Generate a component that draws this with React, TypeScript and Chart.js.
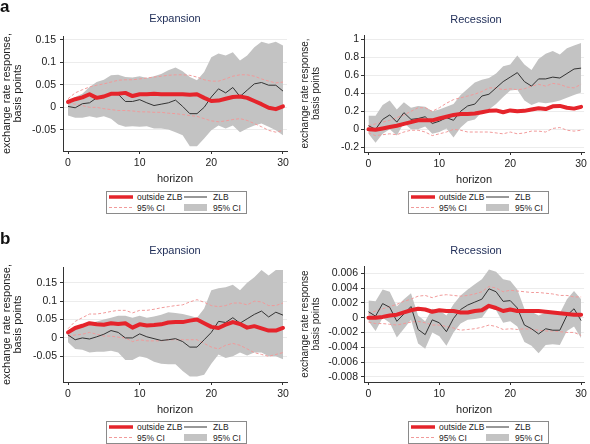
import React, { useEffect, useRef } from "react";
import { Chart, registerables } from "chart.js";
Chart.register(...registerables);

const FONT = '"Liberation Sans", Arial, Helvetica, sans-serif';
const RED = "#e5242b";
const PINK = "#f19a9a";
const GRAY = "#c3c3c3";
const DARK = "#333333";
const TITLE_COLOR = "#22305a";

const horizon = [0, 1, 2, 3, 4, 5, 6, 7, 8, 9, 10, 11, 12, 13, 14, 15, 16, 17, 18, 19, 20, 21, 22, 23, 24, 25, 26, 27, 28, 29, 30];
const xTicks = [0, 10, 20, 30];

// ---- Panel a, Expansion ----
const aExpOutside = [0.012, 0.018, 0.022, 0.029, 0.021, 0.024, 0.030, 0.030, 0.032, 0.025, 0.029, 0.029, 0.030, 0.029, 0.029, 0.029, 0.029, 0.028, 0.029, 0.021, 0.014, 0.015, 0.019, 0.023, 0.024, 0.021, 0.014, 0.007, -0.001, -0.004, 0.002];
const aExpOutsideHi = [0.019, 0.032, 0.039, 0.045, 0.049, 0.052, 0.056, 0.060, 0.061, 0.061, 0.063, 0.065, 0.067, 0.069, 0.071, 0.072, 0.072, 0.071, 0.067, 0.061, 0.058, 0.058, 0.063, 0.069, 0.072, 0.072, 0.069, 0.063, 0.058, 0.054, 0.056];
const aExpOutsideLo = [0.010, 0.007, 0.004, 0.000, 0.000, -0.003, -0.005, -0.007, -0.007, -0.008, -0.010, -0.010, -0.011, -0.011, -0.013, -0.014, -0.016, -0.018, -0.020, -0.025, -0.030, -0.032, -0.030, -0.027, -0.025, -0.029, -0.036, -0.043, -0.051, -0.055, -0.051];
const aExpZlb = [0.002, -0.001, 0.008, 0.010, 0.021, 0.024, 0.030, 0.029, 0.013, 0.013, 0.017, 0.010, 0.004, 0.007, 0.010, 0.016, 0.002, -0.014, -0.014, 0.000, 0.023, 0.041, 0.032, 0.044, 0.024, 0.038, 0.052, 0.055, 0.049, 0.049, 0.036];
const aExpZlbHi = [0.014, 0.023, 0.030, 0.045, 0.056, 0.061, 0.071, 0.072, 0.067, 0.066, 0.069, 0.065, 0.069, 0.074, 0.082, 0.088, 0.080, 0.067, 0.060, 0.078, 0.111, 0.119, 0.115, 0.122, 0.104, 0.115, 0.133, 0.145, 0.141, 0.145, 0.137];
const aExpZlbLo = [-0.018, -0.023, -0.023, -0.020, -0.023, -0.020, -0.025, -0.038, -0.043, -0.042, -0.043, -0.042, -0.047, -0.047, -0.049, -0.055, -0.062, -0.086, -0.086, -0.069, -0.051, -0.040, -0.047, -0.040, -0.055, -0.047, -0.040, -0.036, -0.043, -0.051, -0.062];
const aExpTicks = [-0.05, 0, 0.05, 0.1, 0.15];

// ---- Panel a, Recession ----
const aRecOutside = [0.0, -0.005, 0.01, 0.025, 0.04, 0.06, 0.08, 0.1, 0.1, 0.1, 0.12, 0.14, 0.16, 0.17, 0.17, 0.175, 0.19, 0.205, 0.21, 0.19, 0.21, 0.2, 0.205, 0.22, 0.235, 0.225, 0.255, 0.26, 0.24, 0.23, 0.25];
const aRecOutsideHi = [0.04, 0.06, 0.08, 0.1, 0.13, 0.16, 0.2, 0.24, 0.24, 0.2, 0.24, 0.29, 0.33, 0.35, 0.37, 0.39, 0.42, 0.46, 0.46, 0.44, 0.45, 0.44, 0.45, 0.48, 0.5, 0.48, 0.51, 0.5, 0.47, 0.46, 0.5];
const aRecOutsideLo = [-0.04, -0.07, -0.06, -0.05, -0.06, -0.03, -0.01, -0.01, -0.03, -0.07, -0.05, -0.03, 0.0, -0.01, -0.03, -0.03, -0.03, -0.03, -0.04, -0.05, -0.03, -0.05, -0.04, -0.02, -0.02, -0.03, 0.01, 0.02, -0.01, -0.02, -0.01];
const aRecZlb = [0.04, 0.0, 0.11, 0.16, 0.08, 0.185, 0.11, 0.12, 0.14, 0.065, 0.09, 0.13, 0.1, 0.2, 0.26, 0.28, 0.37, 0.39, 0.46, 0.53, 0.58, 0.63, 0.53, 0.48, 0.56, 0.56, 0.58, 0.57, 0.62, 0.67, 0.68];
const aRecZlbHi = [0.15, 0.15, 0.27, 0.32, 0.22, 0.3, 0.24, 0.26, 0.25, 0.2, 0.22, 0.25, 0.28, 0.38, 0.45, 0.52, 0.55, 0.57, 0.62, 0.7, 0.72, 0.82, 0.72, 0.66, 0.78, 0.84, 0.87, 0.83, 0.9, 0.93, 0.96];
const aRecZlbLo = [-0.05, -0.15, -0.05, 0.0, -0.07, 0.07, 0.0, 0.0, 0.03, -0.05, -0.03, 0.01, -0.09, 0.02, 0.09, 0.11, 0.19, 0.22, 0.28, 0.36, 0.43, 0.44, 0.32, 0.27, 0.3, 0.29, 0.3, 0.32, 0.35, 0.38, 0.41];
const aRecTicks = [-0.2, 0, 0.2, 0.4, 0.6, 0.8, 1];

// ---- Panel b, Expansion ----
const bExpOutside = [0.015, 0.027, 0.033, 0.04, 0.037, 0.036, 0.04, 0.038, 0.04, 0.028, 0.037, 0.034, 0.035, 0.037, 0.042, 0.043, 0.043, 0.047, 0.05, 0.04, 0.03, 0.027, 0.036, 0.043, 0.038, 0.028, 0.032, 0.026, 0.02, 0.02, 0.027];
const bExpOutsideHi = [0.025, 0.045, 0.055, 0.065, 0.065, 0.068, 0.072, 0.075, 0.075, 0.068, 0.075, 0.075, 0.078, 0.082, 0.085, 0.088, 0.09, 0.098, 0.104, 0.097, 0.088, 0.085, 0.088, 0.095, 0.095, 0.09, 0.1, 0.098, 0.088, 0.088, 0.095];
const bExpOutsideLo = [0.005, 0.008, 0.01, 0.015, 0.01, 0.005, 0.005, 0.002, 0.0, -0.01, -0.005, -0.008, -0.008, -0.008, -0.005, -0.005, -0.005, -0.005, -0.005, -0.015, -0.025, -0.03, -0.02, -0.015, -0.02, -0.03, -0.04, -0.045, -0.05, -0.045, -0.04];
const bExpZlb = [0.008, -0.005, 0.0, -0.003, 0.003, 0.01, 0.02, 0.015, 0.0, 0.0, 0.011, 0.003, -0.002, -0.007, -0.005, -0.002, -0.01, -0.025, -0.025, -0.005, 0.015, 0.045, 0.042, 0.055, 0.04, 0.052, 0.064, 0.073, 0.057, 0.07, 0.062];
const bExpZlbHi = [0.02, 0.03, 0.035, 0.04, 0.045, 0.05, 0.055, 0.06, 0.06, 0.055, 0.06, 0.055, 0.058, 0.063, 0.07, 0.068, 0.065, 0.06, 0.055, 0.08, 0.13, 0.135, 0.138, 0.145, 0.13, 0.15, 0.165, 0.185, 0.17, 0.185, 0.185];
const bExpZlbLo = [-0.012, -0.03, -0.032, -0.04, -0.038, -0.038, -0.035, -0.04, -0.06, -0.06, -0.05, -0.055, -0.065, -0.07, -0.072, -0.072, -0.09, -0.105, -0.105, -0.1, -0.07, -0.045, -0.055, -0.05, -0.04, -0.048, -0.04, -0.04, -0.05, -0.05, -0.058];
const bExpTicks = [-0.05, 0, 0.05, 0.1, 0.15];

// ---- Panel b, Recession ----
const bRecOutside = [0.0, 0.0, 0.0001, 0.0003, 0.0004, 0.0007, 0.001, 0.0012, 0.0011, 0.0008, 0.001, 0.0009, 0.0009, 0.0007, 0.0007, 0.0009, 0.001, 0.0016, 0.0013, 0.0009, 0.0011, 0.0009, 0.0009, 0.0009, 0.0009, 0.0008, 0.0007, 0.0006, 0.0005, 0.0004, 0.0004];
const bRecOutsideHi = [0.0005, 0.0009, 0.0012, 0.0015, 0.0018, 0.0022, 0.0025, 0.0029, 0.003, 0.0027, 0.003, 0.0031, 0.003, 0.0029, 0.003, 0.0032, 0.0035, 0.0042, 0.004, 0.0035, 0.0037, 0.0036, 0.0035, 0.0034, 0.0034, 0.0033, 0.0032, 0.003, 0.003, 0.0028, 0.0028];
const bRecOutsideLo = [-0.0006, -0.0008, -0.0008, -0.0009, -0.001, -0.0008, -0.0006, -0.0005, -0.0007, -0.001, -0.001, -0.0012, -0.0014, -0.0017, -0.0016, -0.0015, -0.0013, -0.001, -0.0012, -0.0016, -0.0015, -0.0016, -0.0015, -0.0016, -0.0017, -0.0018, -0.0018, -0.0019, -0.002, -0.002, -0.0024];
const bRecZlb = [0.0008, 0.0002, 0.0019, 0.0014, -0.0005, 0.0005, 0.0015, -0.0016, -0.0023, -0.0003, -0.0007, -0.0019, -0.0001, 0.0011, 0.0017, 0.0021, 0.0025, 0.0039, 0.0035, 0.0022, 0.0023, 0.0013, -0.001, -0.0015, -0.0022, -0.0015, -0.0017, -0.0017, 0.0003, 0.0012, -0.0004];
const bRecZlbHi = [0.0023, 0.0022, 0.0038, 0.0035, 0.0015, 0.0025, 0.0033, 0.0003, -0.0005, 0.0012, 0.001, 0.0003, 0.0018, 0.003, 0.0038, 0.0045, 0.0052, 0.0065, 0.0062, 0.0052, 0.005, 0.0038, 0.0012, 0.0008, 0.0003, 0.0007, 0.0005, 0.0006, 0.0025, 0.0036, 0.0025];
const bRecZlbLo = [-0.0005, -0.0018, 0.0, -0.0007, -0.0027, -0.0015, -0.0003, -0.0035, -0.0042, -0.002, -0.0025, -0.0038, -0.002, -0.0008, -0.0003, -0.0002, 0.0, 0.0013, 0.001, -0.0007, -0.0005, -0.0012, -0.0033, -0.0038, -0.0048, -0.0037, -0.0036, -0.0037, -0.0018, -0.0012, -0.0028];
const bRecTicks = [-0.008, -0.006, -0.004, -0.002, 0, 0.002, 0.004, 0.006];

type PanelCfg = {
  left: number; top: number; w: number; h: number;
  area: { l: number; t: number; r: number; b: number };
  xMin: number; xMax: number; yMin: number; yMax: number;
  yTicks: number[];
  outside: number[]; outsideHi: number[]; outsideLo: number[];
  zlb: number[]; zlbHi: number[]; zlbLo: number[];
  yTitle: string[]; yTitleSize: number; yTitleLH: number; yTitlePad: number; yTickPad: number;
};

const XH = 36;

const panels: PanelCfg[] = [
  {
    left: 0, top: 0, w: 295, h: 222, area: { l: 63, t: 36, r: 287, b: 151 },
    xMin: -0.7, xMax: 30.56, yMin: -0.0967, yMax: 0.158, yTicks: aExpTicks,
    outside: aExpOutside, outsideHi: aExpOutsideHi, outsideLo: aExpOutsideLo,
    zlb: aExpZlb, zlbHi: aExpZlbHi, zlbLo: aExpZlbLo,
    yTitle: ["exchange rate response,", "basis points"], yTitleSize: 11, yTitleLH: 11, yTitlePad: 1, yTickPad: 4,
  },
  {
    left: 295, top: 0, w: 295, h: 222, area: { l: 69, t: 35, r: 292, b: 152 },
    xMin: -0.63, xMax: 30.42, yMin: -0.252, yMax: 1.048, yTicks: aRecTicks,
    outside: aRecOutside, outsideHi: aRecOutsideHi, outsideLo: aRecOutsideLo,
    zlb: aRecZlb, zlbHi: aRecZlbHi, zlbLo: aRecZlbLo,
    yTitle: ["exchange rate response,", "basis points"], yTitleSize: 10, yTitleLH: 11, yTitlePad: 5, yTickPad: 2,
  },
  {
    left: 0, top: 222, w: 295, h: 222, area: { l: 63, t: 45, r: 287, b: 160 },
    xMin: -0.7, xMax: 30.56, yMin: -0.12, yMax: 0.193, yTicks: bExpTicks,
    outside: bExpOutside, outsideHi: bExpOutsideHi, outsideLo: bExpOutsideLo,
    zlb: bExpZlb, zlbHi: bExpZlbHi, zlbLo: bExpZlbLo,
    yTitle: ["exchange rate response,", "basis points"], yTitleSize: 11, yTitleLH: 11, yTitlePad: 1, yTickPad: 3,
  },
  {
    left: 295, top: 222, w: 295, h: 222, area: { l: 69, t: 44, r: 292, b: 160 },
    xMin: -0.63, xMax: 30.42, yMin: -0.0087, yMax: 0.00698, yTicks: bRecTicks,
    outside: bRecOutside, outsideHi: bRecOutsideHi, outsideLo: bRecOutsideLo,
    zlb: bRecZlb, zlbHi: bRecZlbHi, zlbLo: bRecZlbLo,
    yTitle: ["exchange rate response", "basis points"], yTitleSize: 10, yTitleLH: 11, yTitlePad: 5, yTickPad: 3,
  },
];

const titles = [
  { text: "Expansion", x: 175, y: 22 },
  { text: "Recession", x: 476, y: 22.5 },
  { text: "Expansion", x: 175, y: 253.5 },
  { text: "Recession", x: 476, y: 254 },
];
const panelLetters = [
  { text: "a", x: 0, y: 12 },
  { text: "b", x: 0, y: 244 },
];
const legendSpots = [
  { x: 106, y: 191 },
  { x: 408, y: 191 },
  { x: 106, y: 421 },
  { x: 408, y: 421 },
];
const legendLabels = ["outside ZLB", "ZLB", "95% CI", "95% CI"];

const pts = (ys: number[]) => horizon.map((h, i) => ({ x: h, y: ys[i] }));

function Panel({ cfg }: { cfg: PanelCfg }) {
  const ref = useRef<HTMLCanvasElement | null>(null);
  useEffect(() => {
    if (!ref.current) return;
    const c = cfg;
    const chart = new Chart(ref.current, {
      type: "line",
      data: {
        datasets: [
          { data: pts(c.zlbLo), borderColor: "rgba(0,0,0,0)", borderWidth: 0, pointRadius: 0, fill: false, order: 10 },
          { data: pts(c.zlbHi), borderColor: "rgba(0,0,0,0)", borderWidth: 0, pointRadius: 0, fill: 0, backgroundColor: GRAY, order: 9 },
          { data: pts(c.outsideLo), borderColor: PINK, borderWidth: 1, borderDash: [3, 2], pointRadius: 0, fill: false, order: 5 },
          { data: pts(c.outsideHi), borderColor: PINK, borderWidth: 1, borderDash: [3, 2], pointRadius: 0, fill: false, order: 4 },
          { data: pts(c.zlb), borderColor: DARK, borderWidth: 1, pointRadius: 0, fill: false, order: 2 },
          { data: pts(c.outside), borderColor: RED, borderWidth: 4, pointRadius: 0, fill: false, order: 1, borderJoinStyle: "round", borderCapStyle: "round" },
        ] as any,
      },
      options: {
        animation: false,
        responsive: false,
        devicePixelRatio: 1,
        events: [],
        layout: { padding: { left: 0, top: c.area.t, right: c.w - c.area.r, bottom: c.h - c.area.b - XH } },
        plugins: { legend: { display: false }, tooltip: { enabled: false }, title: { display: false } },
        scales: {
          x: {
            type: "linear",
            min: c.xMin,
            max: c.xMax,
            afterBuildTicks: (s: any) => { s.ticks = xTicks.map((v) => ({ value: v })); },
            afterFit: (s: any) => { s.height = XH; },
            grid: { display: true, drawOnChartArea: false, drawTicks: true, tickLength: 3, tickColor: DARK },
            border: { display: true, color: DARK, width: 1 },
            ticks: { font: { family: FONT, size: 10.5 }, color: "#222", padding: 3, maxRotation: 0, callback: (v: any) => String(v) },
            title: { display: true, text: "horizon", font: { family: FONT, size: 11, lineHeight: 1 }, color: "#222", padding: { top: 0, bottom: 2.5 } },
          },
          y: {
            type: "linear",
            min: c.yMin,
            max: c.yMax,
            afterBuildTicks: (s: any) => { s.ticks = c.yTicks.map((v) => ({ value: v })); },
            afterFit: (s: any) => { s.width = c.area.l; },
            grid: { display: true, drawOnChartArea: true, color: "#ececec", drawTicks: true, tickLength: 3, tickColor: DARK },
            border: { display: true, color: DARK, width: 1 },
            ticks: { font: { family: FONT, size: 10.5 }, color: "#222", padding: c.yTickPad, callback: (v: any) => String(v) },
            title: {
              display: true,
              text: c.yTitle,
              font: { family: FONT, size: c.yTitleSize, lineHeight: c.yTitleLH / c.yTitleSize },
              color: "#222",
              padding: { top: c.yTitlePad, bottom: 0 },
            },
          },
        },
      } as any,
    });
    return () => chart.destroy();
  }, [cfg]);
  return (
    <canvas
      ref={ref}
      width={cfg.w}
      height={cfg.h}
      style={{ position: "absolute", left: cfg.left, top: cfg.top, width: cfg.w, height: cfg.h }}
    />
  );
}

function Legend({ x, y }: { x: number; y: number }) {
  const fs = 8.5;
  return (
    <g transform={`translate(${x},${y})`}>
      <rect x={0.5} y={0.5} width={140} height={22} fill="#fff" stroke="#8a8a8a" strokeWidth={1} />
      <line x1={3} x2={27} y1={6} y2={6} stroke={RED} strokeWidth={3.5} />
      <text x={31} y={9} fontSize={fs} fill="#222">{legendLabels[0]}</text>
      <line x1={78} x2={101} y1={6} y2={6} stroke={DARK} strokeWidth={1} />
      <text x={107} y={9} fontSize={fs} fill="#222">{legendLabels[1]}</text>
      <line x1={3} x2={27} y1={16.5} y2={16.5} stroke={PINK} strokeWidth={1} strokeDasharray="3,2" />
      <text x={31} y={19.5} fontSize={fs} fill="#222">{legendLabels[2]}</text>
      <rect x={78} y={13} width={23} height={7} fill={GRAY} />
      <text x={107} y={19.5} fontSize={fs} fill="#222">{legendLabels[3]}</text>
    </g>
  );
}

export default function App() {
  return (
    <div style={{ position: "absolute", left: 0, top: 0, width: 590, height: 444, background: "#fff", overflow: "hidden" }}>
      {panels.map((p, i) => (
        <Panel key={i} cfg={p} />
      ))}
      <svg
        width={590}
        height={444}
        style={{ position: "absolute", left: 0, top: 0, pointerEvents: "none", fontFamily: FONT }}
      >
        {panelLetters.map((l, i) => (
          <text key={"l" + i} x={l.x} y={l.y} fontSize={17} fontWeight="bold" fill="#111">{l.text}</text>
        ))}
        {titles.map((t, i) => (
          <text key={"t" + i} x={t.x} y={t.y} fontSize={11} fill={TITLE_COLOR} textAnchor="middle">{t.text}</text>
        ))}
        {legendSpots.map((s, i) => (
          <Legend key={"g" + i} x={s.x} y={s.y} />
        ))}
      </svg>
    </div>
  );
}
